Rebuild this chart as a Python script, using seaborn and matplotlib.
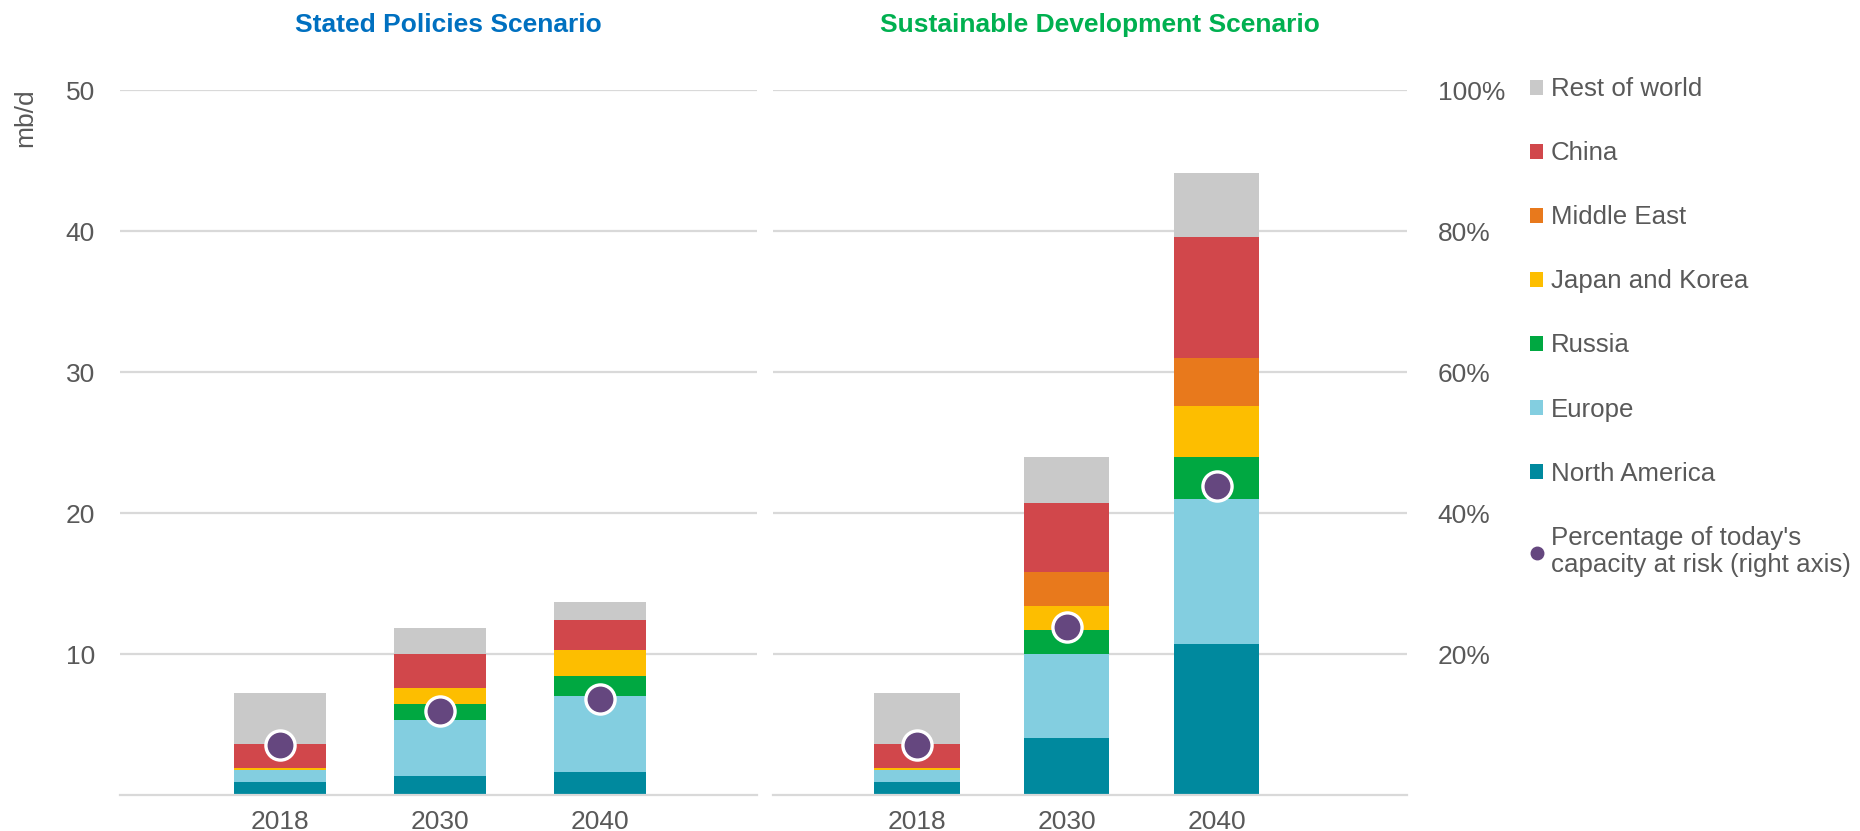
import matplotlib
matplotlib.use('Agg')
import matplotlib.pyplot as plt
from matplotlib.patches import Patch
from matplotlib.lines import Line2D
from matplotlib.ticker import PercentFormatter
import pandas as pd
import seaborn as sns

years = ['2018', '2030', '2040']
regions = ['Rest of world', 'China', 'Middle East', 'Japan and Korea',
           'Russia', 'Europe', 'North America']
colors = ['#C9C9C9', '#D1474B', '#E8791C', '#FDBE00',
          '#00A841', '#83CEE0', '#00899E']

# Stated Policies Scenario (mb/d)，顺序同 years
sps_rest = [3.55, 1.84, 1.28]
sps_china = [1.70, 2.39, 2.13]
sps_middle_east = [0.00, 0.00, 0.00]
sps_japan_korea = [0.15, 1.13, 1.84]
sps_russia = [0.00, 1.14, 1.42]
sps_europe = [0.88, 3.97, 5.39]
sps_north_america = [0.92, 1.37, 1.63]
sps_pct = [7.1, 11.9, 13.6]

# Sustainable Development Scenario (mb/d)
sds_rest = [3.55, 3.27, 4.55]
sds_china = [1.70, 4.93, 8.58]
sds_middle_east = [0.00, 2.40, 3.40]
sds_japan_korea = [0.15, 1.70, 3.60]
sds_russia = [0.00, 1.70, 2.97]
sds_europe = [0.88, 5.93, 10.29]
sds_north_america = [0.92, 4.07, 10.71]
sds_pct = [7.1, 23.8, 43.9]

TEXT = '#595959'
GRID = '#D9D9D9'
PURPLE = '#65477F'
FS = 19


def to_long(series):
    rows = []
    for region, vals in zip(regions, series):
        for i, v in enumerate(vals):
            rows.append({'pos': i, 'region': region, 'value': v})
    return pd.DataFrame(rows)


df_sps = to_long([sps_rest, sps_china, sps_middle_east, sps_japan_korea,
                  sps_russia, sps_europe, sps_north_america])
df_sds = to_long([sds_rest, sds_china, sds_middle_east, sds_japan_korea,
                  sds_russia, sds_europe, sds_north_america])

sns.set_theme(style='white')
plt.rcParams['font.family'] = ['Liberation Sans', 'DejaVu Sans']
plt.rcParams['font.size'] = FS

fig = plt.figure(figsize=(18.6, 8.31), dpi=100)
ax_l = fig.add_axes([120 / 1860, 1 - 795 / 831, 637 / 1860, 705 / 831])
ax_r = fig.add_axes([773 / 1860, 1 - 795 / 831, 634 / 1860, 705 / 831])

panels = [
    (ax_l, df_sps, sps_pct, (-1.0, 2.98), 'Stated Policies Scenario', '#0070C0', 0.575),
    (ax_r, df_sds, sds_pct, (-0.96, 3.27), 'Sustainable Development Scenario', '#00B050', 0.57),
]

twins = []
for ax, df, pct, xlim, title, tcolor, shrink in panels:
    sns.histplot(data=df, x='pos', weights='value', hue='region',
                 hue_order=regions, palette=colors, multiple='stack',
                 discrete=True, shrink=shrink, alpha=1, linewidth=0,
                 legend=False, ax=ax, zorder=2)
    ax.set_xlim(*xlim)
    ax.set_ylim(0, 50)
    ax.set_yticks([10, 20, 30, 40, 50])
    ax.set_xticks(range(len(years)))
    ax.set_xticklabels(years)
    ax.set_xlabel('')
    ax.set_ylabel('')
    ax.yaxis.grid(True, color=GRID, linewidth=1.6)
    ax.set_axisbelow(True)
    for s in ['top', 'right', 'left']:
        ax.spines[s].set_visible(False)
    ax.spines['bottom'].set_color(GRID)
    ax.spines['bottom'].set_linewidth(1.6)
    ax.tick_params(axis='both', which='major', length=0, labelsize=FS,
                   colors=TEXT)
    ax.tick_params(axis='x', pad=11)
    ax.tick_params(axis='y', pad=18)

    twin = ax.twinx()
    sns.scatterplot(x=list(range(len(years))), y=pct, ax=twin, s=21 ** 2,
                    color=PURPLE, edgecolor='white', linewidth=2.4,
                    zorder=5, legend=False)
    twin.set_ylim(0, 100)
    twin.set_xlim(*xlim)
    twin.set_yticks([])
    for s in twin.spines.values():
        s.set_visible(False)
    twin.grid(False)
    twins.append(twin)

    mid = (ax.get_position().x0 + ax.get_position().x1) / 2
    fig.text(mid + 10 / 1860, 1 - 25 / 831, title, color=tcolor,
             fontsize=FS, fontweight='bold', ha='center', va='center')

# 轴端小刻度
ax_l.set_xticks([-1.0], minor=True)
ax_l.tick_params(axis='x', which='minor', length=9, width=1.6, color=GRID)
ax_r.set_xticks([3.27], minor=True)
ax_r.tick_params(axis='x', which='minor', length=9, width=1.6, color=GRID)
ax_r.set_yticklabels([])

twin_r = twins[1]
twin_r.set_yticks([20, 40, 60, 80, 100])
twin_r.yaxis.set_major_formatter(PercentFormatter(decimals=0))
twin_r.tick_params(axis='y', length=0, labelsize=FS, colors=TEXT, pad=22)

fig.text(25 / 1860, 1 - 118 / 831, 'mb/d', rotation=90, color=TEXT,
         fontsize=FS, ha='center', va='center')

handles = [Patch(facecolor=c, edgecolor='none') for c in colors]
handles.append(Line2D([], [], marker='o', linestyle='none', color=PURPLE,
                      markersize=9))
labels = regions + ["Percentage of today's\ncapacity at risk (right axis)"]
fig.legend(handles, labels, loc='upper left',
           bbox_to_anchor=(1520 / 1860, 1 - 67 / 831), frameon=False,
           fontsize=18.6, labelcolor=TEXT, handlelength=0.5,
           handleheight=0.5, handletextpad=0.3, labelspacing=1.55,
           borderaxespad=0)

fig.savefig('out.png', dpi=100)
